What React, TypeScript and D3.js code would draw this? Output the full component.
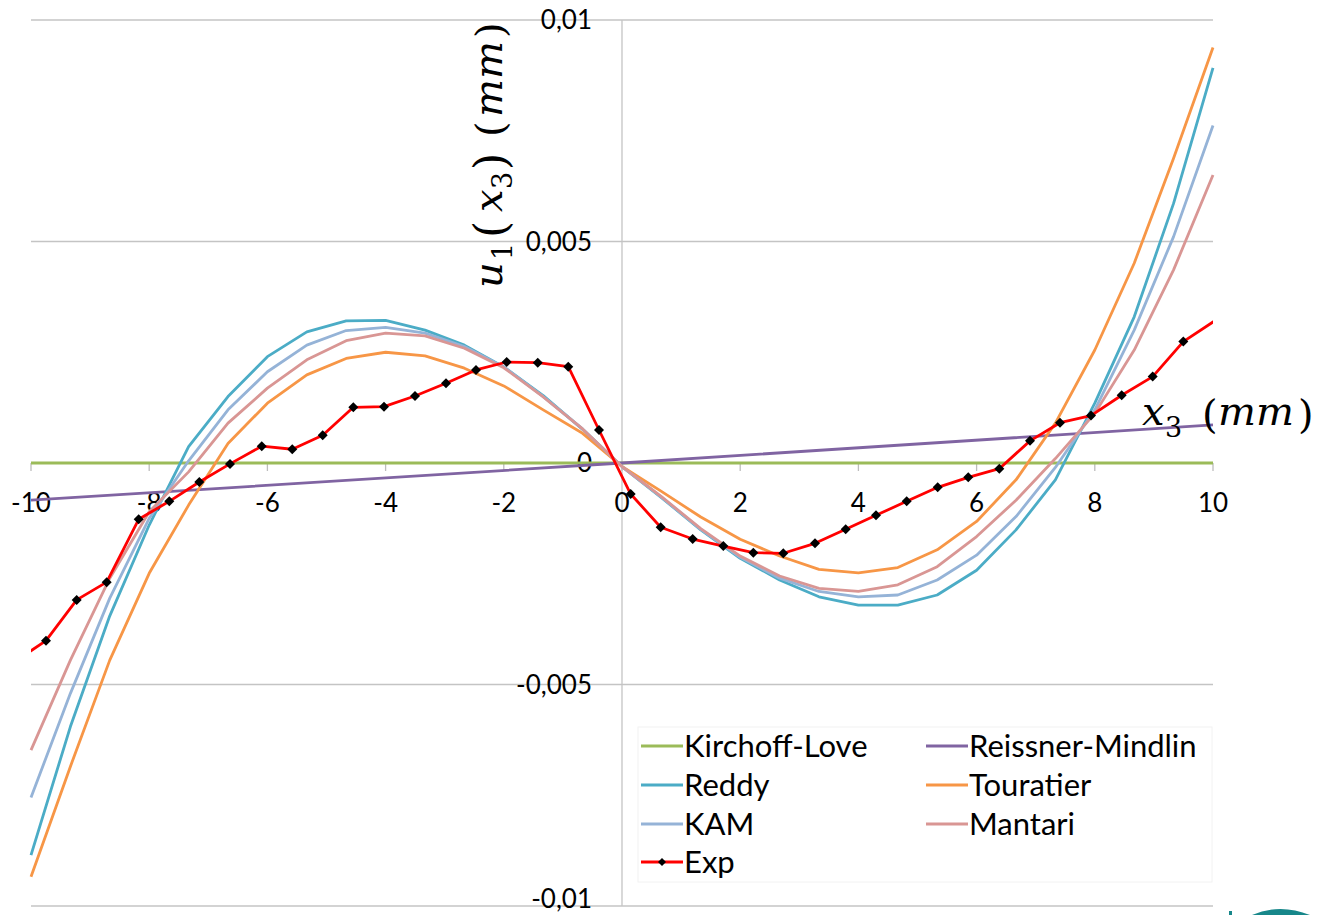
import React from 'react';
import * as d3 from 'd3';

// ---------- data ----------
const X_TICKS = [-10, -8, -6, -4, -2, 0, 2, 4, 6, 8, 10];
const X_TICK_LABELS = ['-10', '-8', '-6', '-4', '-2', '0', '2', '4', '6', '8', '10'];
const Y_TICKS = [-0.01, -0.005, 0, 0.005, 0.01];
const Y_TICK_LABELS = ['-0,01', '-0,005', '0', '0,005', '0,01'];

const X_THEORY = [
  -10, -9.333, -8.667, -8, -7.333, -6.667, -6, -5.333, -4.667, -4, -3.333, -2.667, -2, -1.333, -0.667,
  0, 0.667, 1.333, 2, 2.667, 3.333, 4, 4.667, 5.333, 6, 6.667, 7.333, 8, 8.667, 9.333, 10,
];

const KIRCHHOFF_X = [-10, 10];
const KIRCHHOFF = [0, 0];

const MINDLIN_X = [-10, 0, 10];
const MINDLIN = [-0.00084, 0, 0.00086];

const REDDY = [
  -0.00885, -0.00595, -0.00345, -0.0014, 0.00037, 0.0015, 0.0024, 0.00296, 0.00321, 0.00322, 0.003, 0.00266,
  0.00217, 0.00152, 0.00076, -0.00008, -0.00078, -0.00151, -0.00215, -0.00264, -0.00302, -0.00321, -0.00321,
  -0.00298, -0.00242, -0.00151, -0.00038, 0.00135, 0.0033, 0.00586, 0.00892,
];

const TOURATIER = [
  -0.00934, -0.00685, -0.00445, -0.00249, -0.00095, 0.00044, 0.00135, 0.00199, 0.00236, 0.0025, 0.00242,
  0.00214, 0.00174, 0.0012, 0.00067, -0.00008, -0.00064, -0.00122, -0.00172, -0.0021, -0.0024, -0.00248,
  -0.00236, -0.00196, -0.00132, -0.00038, 0.0009, 0.00255, 0.00451, 0.00688, 0.00938,
];

const KAM = [
  -0.00755, -0.0052, -0.00305, -0.00125, 0.00005, 0.0012, 0.00206, 0.00266, 0.00299, 0.00306, 0.00293,
  0.00263, 0.00217, 0.0015, 0.00077, -0.00008, -0.00077, -0.0015, -0.00213, -0.0026, -0.0029, -0.00302,
  -0.00298, -0.00264, -0.00208, -0.00121, -0.0001, 0.0012, 0.003, 0.00511, 0.00762,
];

const MANTARI = [
  -0.00648, -0.00445, -0.0026, -0.0011, -0.0002, 0.0009, 0.00169, 0.00233, 0.00276, 0.00293, 0.00287,
  0.00259, 0.00215, 0.00149, 0.00077, -0.00008, -0.00076, -0.00148, -0.0021, -0.00255, -0.00283, -0.0029,
  -0.00275, -0.00234, -0.00166, -0.00084, 0.0001, 0.00112, 0.00255, 0.00436, 0.0065,
];

const EXP_X = [
  -10.27, -9.746, -9.227, -8.719, -8.178, -7.66, -7.152, -6.633, -6.096, -5.579, -5.064, -4.546, -4.027,
  -3.503, -2.978, -2.47, -1.951, -1.426, -0.909, -0.389, 0.147, 0.655, 1.196, 1.714, 2.222, 2.729, 3.266,
  3.785, 4.298, 4.817, 5.342, 5.859, 6.384, 6.904, 7.411, 7.936, 8.455, 8.98, 9.498, 10.12,
];
const EXP = [
  -0.00448, -0.00401, -0.00309, -0.00269, -0.00127, -0.000865, -0.00043, -0.00002, 0.00038, 0.00031,
  0.000625, 0.001257, 0.001271, 0.001512, 0.0018, 0.0021, 0.00228, 0.002264, 0.002174, 0.000745, -0.0007,
  -0.001451, -0.001716, -0.001874, -0.002025, -0.002038, -0.001813, -0.001497, -0.001181, -0.000865,
  -0.000549, -0.000323, -0.000129, 0.0005, 0.00091, 0.00107, 0.00153, 0.00195, 0.00274, 0.00329,
];

const SERIES_NAMES = ['Kirchoff-Love', 'Reissner-Mindlin', 'Reddy', 'Touratier', 'KAM', 'Mantari', 'Exp'];
const COLORS = ['#9BBB59', '#8064A2', '#4BACC6', '#F79646', '#95B3D7', '#D99694', '#FF0000'];

// ---------- component ----------
const FONT = "Lato, 'Open Sans', sans-serif";
const MATH = "'DejaVu Serif', serif";

const diamond = (r: number) => `M0,${-r}L${r},0L0,${r}L${-r},0Z`;

export default function App() {
  const x = d3.scaleLinear().domain([-10, 10]).range([31, 1213]);
  const y = d3.scaleLinear().domain([-0.01, 0.01]).range([906, 20]);

  const path = (xs: number[], ys: number[]) =>
    d3
      .line<number>()
      .x((_, i) => x(xs[i]))
      .y((d) => y(d))(ys) || '';

  const theory: { xs: number[]; ys: number[]; color: string }[] = [
    { xs: KIRCHHOFF_X, ys: KIRCHHOFF, color: COLORS[0] },
    { xs: MINDLIN_X, ys: MINDLIN, color: COLORS[1] },
    { xs: X_THEORY, ys: REDDY, color: COLORS[2] },
    { xs: X_THEORY, ys: TOURATIER, color: COLORS[3] },
    { xs: X_THEORY, ys: KAM, color: COLORS[4] },
    { xs: X_THEORY, ys: MANTARI, color: COLORS[5] },
  ];

  const y0 = y(0);
  const x0 = x(0);
  const [xL, xR] = x.range();
  const [yB, yT] = y.range();

  const legendRows = [
    { name: SERIES_NAMES[0], color: COLORS[0], col: 0, row: 0 },
    { name: SERIES_NAMES[1], color: COLORS[1], col: 1, row: 0 },
    { name: SERIES_NAMES[2], color: COLORS[2], col: 0, row: 1 },
    { name: SERIES_NAMES[3], color: COLORS[3], col: 1, row: 1 },
    { name: SERIES_NAMES[4], color: COLORS[4], col: 0, row: 2 },
    { name: SERIES_NAMES[5], color: COLORS[5], col: 1, row: 2 },
    { name: SERIES_NAMES[6], color: COLORS[6], col: 0, row: 3, marker: true },
  ];
  const legColX = [641, 926];
  const legRowY = [746, 785, 824, 862];

  return (
    <svg
      width={1319}
      height={915}
      style={{ position: 'absolute', left: 0, top: 0, background: '#fff' }}
      fontFamily={FONT}
    >
      <defs>
        <clipPath id="plot">
          <rect x={xL} y={0} width={xR - xL} height={915} />
        </clipPath>
      </defs>
      <rect x={0} y={0} width={1319} height={915} fill="#fff" />

      {/* gridlines */}
      {Y_TICKS.map((t) => (
        <line key={'g' + t} x1={xL} x2={xR} y1={y(t)} y2={y(t)} stroke="#C4C4C4" strokeWidth={1.3} />
      ))}
      {/* vertical axis */}
      <line x1={x0} x2={x0} y1={yT} y2={yB} stroke="#C4C4C4" strokeWidth={1.3} />
      {/* x axis ticks */}
      {X_TICKS.map((t) => (
        <line key={'t' + t} x1={x(t)} x2={x(t)} y1={y0} y2={y0 + 8} stroke="#BDBDBD" strokeWidth={1.3} />
      ))}

      {/* tick labels */}
      {X_TICKS.map((t, i) => (
        <text key={'xl' + t} x={x(t)} y={y0 + 49} textAnchor="middle" fontSize={26} fill="#000">
          {X_TICK_LABELS[i]}
        </text>
      ))}
      {Y_TICKS.map((t, i) => (
        <text
          key={'yl' + t}
          x={592}
          y={Math.min(y(t) + 9, 908)}
          textAnchor="end"
          fontSize={26}
          fill="#000"
        >
          {Y_TICK_LABELS[i]}
        </text>
      ))}

      {/* theory series */}
      {theory.map((s, i) => (
        <path
          key={'s' + i}
          d={path(s.xs, s.ys)}
          fill="none"
          stroke={s.color}
          strokeWidth={2.8}
          strokeLinejoin="round"
        />
      ))}

      {/* experimental */}
      <g clipPath="url(#plot)">
        <path d={path(EXP_X, EXP)} fill="none" stroke={COLORS[6]} strokeWidth={2.8} strokeLinejoin="round" />
        {EXP_X.map((xv, i) => (
          <path key={'m' + i} d={diamond(5)} transform={`translate(${x(xv)},${y(EXP[i])})`} fill="#000" />
        ))}
      </g>

      {/* axis titles */}
      <g fontFamily={MATH} fill="#000">
        <g transform="translate(502,0) rotate(-90)">
          <text x={-288} y={0} fontSize={40} fontStyle="italic">u</text>
          <text x={-260} y={10} fontSize={27}>1</text>
          <text x={-238} y={4} fontSize={44}>(</text>
          <text x={-212} y={0} fontSize={40} fontStyle="italic">x</text>
          <text x={-189} y={10} fontSize={27}>3</text>
          <text x={-170} y={4} fontSize={44}>)</text>
          <text x={-137} y={2} fontSize={40}>(</text>
          <text x={-117} y={0} fontSize={40} fontStyle="italic">mm</text>
          <text x={-38} y={2} fontSize={40}>)</text>
        </g>
        <text x={1142} y={425} fontSize={40} fontStyle="italic">x</text>
        <text x={1165} y={437} fontSize={27}>3</text>
        <text x={1202} y={428} fontSize={40}>(</text>
        <text x={1218} y={425} fontSize={40} fontStyle="italic">mm</text>
        <text x={1298} y={428} fontSize={40}>)</text>
      </g>

      {/* legend */}
      <rect x={638} y={727} width={574} height={155} fill="#fff" stroke="#F2F2F2" strokeWidth={1} />
      {legendRows.map((r, i) => {
        const lx = legColX[r.col];
        const ly = legRowY[r.row];
        return (
          <g key={'lg' + i}>
            <line x1={lx} x2={lx + 42} y1={ly} y2={ly} stroke={r.color} strokeWidth={3} />
            {r.marker && <path d={diamond(4)} transform={`translate(${lx + 21},${ly})`} fill="#000" />}
            <text x={lx + 43} y={ly + 11} fontSize={31} fill="#000">
              {r.name}
            </text>
          </g>
        );
      })}

      {/* logo fragment at bottom right */}
      <path d="M1252,915 Q1280,903 1310,915 Z" fill="#17878A" />
      <rect x={1229} y={911} width={3} height={4} fill="#17878A" />
    </svg>
  );
}
